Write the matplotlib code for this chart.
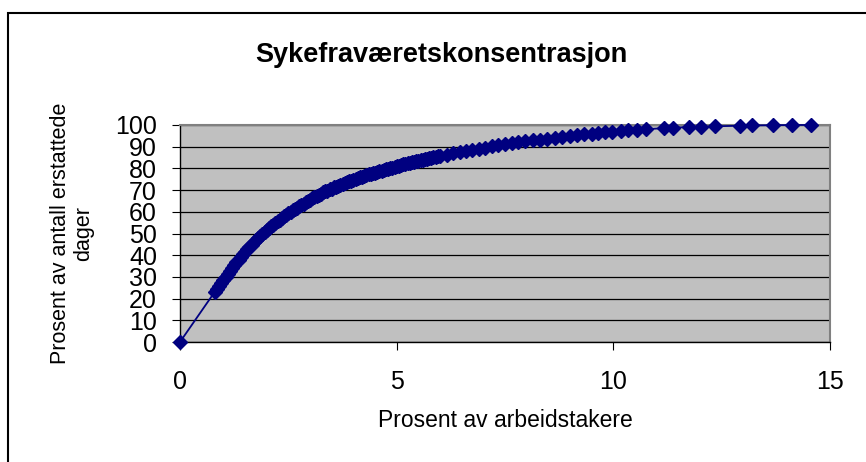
import matplotlib.pyplot as plt
from matplotlib.patches import Rectangle

plt.rcParams['font.family'] = ['Liberation Sans', 'DejaVu Sans']

title = "Sykefraværetskonsentrasjon"
xlabel = "Prosent av arbeidstakere"
ylabel = "Prosent av antall erstattede\ndager"

# Prosent av arbeidstakere (x) / prosent av erstattede dager (y)
pct_workers = [
    0.00,
    0.80, 0.85, 0.90, 0.95, 1.00, 1.05, 1.10, 1.15, 1.20, 1.25, 1.30, 1.35,
    1.40, 1.45, 1.50, 1.55, 1.60, 1.65, 1.70, 1.75, 1.80, 1.85, 1.90, 1.95,
    2.00, 2.05, 2.10, 2.15, 2.20, 2.25, 2.30, 2.35, 2.40, 2.45, 2.50, 2.55,
    2.60, 2.65, 2.70, 2.75, 2.80, 2.85, 2.90, 2.95, 3.00,
    3.05, 3.10, 3.15, 3.20, 3.25, 3.30, 3.35, 3.40, 3.45, 3.50,
    3.55, 3.60, 3.65, 3.70, 3.75, 3.80, 3.85, 3.90, 3.95, 4.00,
    4.05, 4.10, 4.15, 4.20, 4.25, 4.30, 4.35, 4.40, 4.45, 4.50,
    4.55, 4.60, 4.65, 4.70, 4.75, 4.80, 4.85, 4.90, 4.95, 5.00,
    5.05, 5.10, 5.15, 5.20, 5.25, 5.30, 5.35, 5.40, 5.45, 5.50,
    5.55, 5.60, 5.65, 5.70, 5.75, 5.80, 5.85, 5.90, 5.95, 6.00,
    6.15, 6.30, 6.45, 6.60, 6.75, 6.90, 7.05, 7.20, 7.35, 7.50, 7.65, 7.80,
    7.97, 8.14, 8.31, 8.48, 8.65, 8.82, 8.99, 9.16, 9.33, 9.50, 9.64,
    9.81, 9.97, 10.18, 10.34, 10.55, 10.75, 11.17, 11.38, 11.75, 12.02,
    12.35, 12.92, 13.20, 13.69, 14.12, 14.56,
]
pct_days = [
    0.0,
    23.0, 24.5, 26.0, 27.4, 28.8, 30.1, 31.3, 32.7, 34.0, 35.4, 36.7, 38.0,
    39.3, 40.5, 41.7, 42.8, 43.9, 44.9, 46.0, 47.0, 47.9, 48.9, 49.8, 50.7,
    51.6, 52.4, 53.3, 54.1, 54.9, 55.6, 56.4, 57.1, 57.9, 58.6, 59.3, 60.0,
    60.6, 61.3, 61.9, 62.6, 63.2, 63.8, 64.4, 65.0, 65.6,
    66.2, 66.7, 67.3, 67.8, 68.4, 68.9, 69.4, 69.8, 70.3, 70.7,
    71.2, 71.6, 72.0, 72.4, 72.8, 73.2, 73.6, 74.0, 74.4, 74.8,
    75.2, 75.5, 75.9, 76.2, 76.6, 76.9, 77.2, 77.5, 77.8, 78.1,
    78.4, 78.7, 79.0, 79.3, 79.6, 79.9, 80.2, 80.4, 80.7, 81.0,
    81.3, 81.5, 81.8, 82.0, 82.3, 82.5, 82.8, 83.0, 83.3, 83.5,
    83.8, 84.0, 84.2, 84.4, 84.7, 84.9, 85.1, 85.3, 85.5, 85.7,
    86.3, 86.9, 87.5, 88.0, 88.5, 89.1, 89.6, 90.1, 90.6, 91.1, 91.6, 92.1,
    92.5, 92.9, 93.3, 93.7, 94.1, 94.5, 94.9, 95.3, 95.7, 96.0, 96.4,
    96.8, 97.0, 97.3, 97.6, 97.8, 98.0, 98.6, 98.8, 99.0, 99.2,
    99.4, 99.7, 99.8, 99.9, 100.0, 100.0,
]

xticks = [0, 5, 10, 15]
yticks = [0, 10, 20, 30, 40, 50, 60, 70, 80, 90, 100]

W, H = 866, 462
fig = plt.figure(figsize=(W / 100, H / 100), dpi=100)
fig.patch.set_facecolor("white")

# outer chart frame (only top and left edges are inside the picture)
fig.add_artist(Rectangle((8 / W, -0.2), 1.2, 1.2 - 12.5 / H, transform=fig.transFigure,
                         fill=False, edgecolor="black", lw=1.5))

ax = fig.add_axes([180 / W, 1 - 342 / H, 650 / W, 217 / H])
ax.set_facecolor("#C0C0C0")

ax.plot(pct_workers, pct_days, color="#000080", lw=1.3, marker="D", ms=7.5,
        mec="#000080", mfc="#000080", clip_on=False, zorder=3)

ax.set_xlim(0, 15)
ax.set_ylim(0, 100)
ax.set_xticks(xticks)
ax.set_yticks(yticks)
ax.yaxis.grid(True, color="black", lw=0.9)
ax.set_axisbelow(True)

for side in ["top", "right"]:
    ax.spines[side].set_color("#808080")
    ax.spines[side].set_linewidth(1.5)
for side in ["left", "bottom"]:
    ax.spines[side].set_color("black")
    ax.spines[side].set_linewidth(1.0)

ax.tick_params(axis="y", direction="out", length=6, width=0.8, pad=10.5, labelsize=18)
ax.tick_params(axis="x", direction="out", length=6, width=0.8, pad=14, labelsize=18)

ax.set_title(title, fontsize=19.5, fontweight="bold", x=(441 - 180) / 650, y=(342 - 62) / 217,
             va="baseline", pad=0)
ax.set_xlabel(xlabel, fontsize=16.5, va="baseline")
ax.xaxis.set_label_coords(0.5, (342 - 427) / 217)
ax.set_ylabel(ylabel, fontsize=15.5, linespacing=1.1)
ax.yaxis.set_label_coords((94 - 180) / 650, 0.5)

fig.savefig("out.png", dpi=100)
